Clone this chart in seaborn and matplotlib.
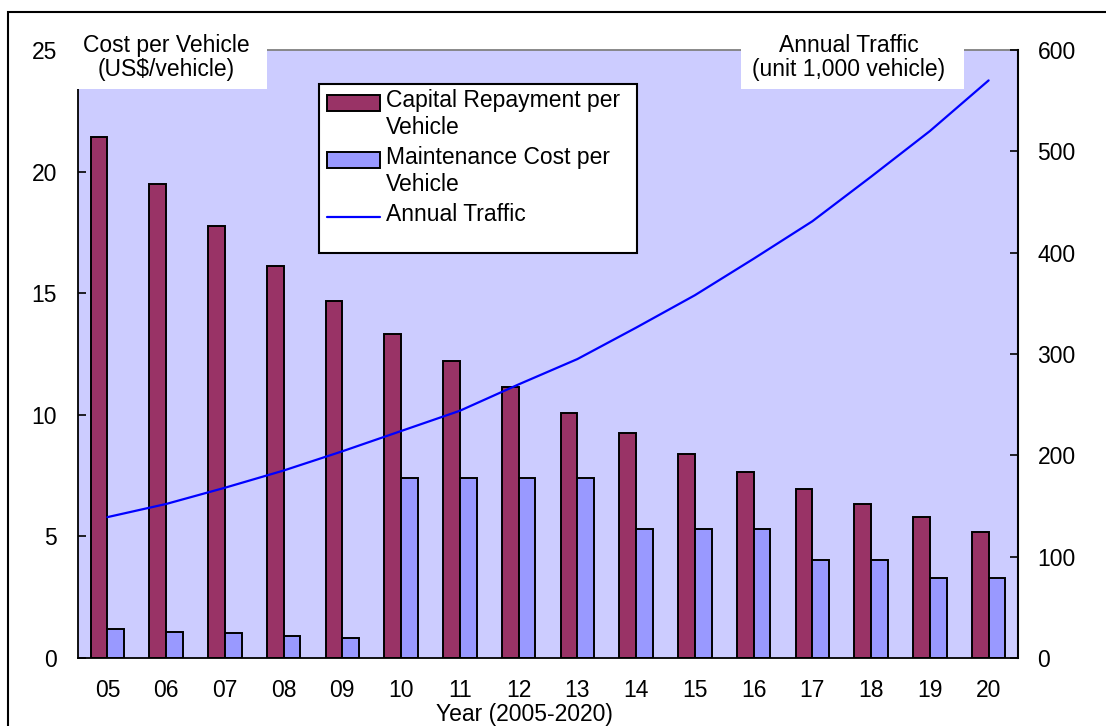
import numpy as np
import pandas as pd
import matplotlib
matplotlib.use("Agg")
import matplotlib.pyplot as plt
import matplotlib.patches as mpatches
from matplotlib.lines import Line2D
from matplotlib.ticker import FixedLocator
import seaborn as sns

# ---------------- data ----------------
years = ["05", "06", "07", "08", "09", "10", "11", "12",
         "13", "14", "15", "16", "17", "18", "19", "20"]
capital = [21.42, 19.49, 17.78, 16.12, 14.68, 13.32, 12.21, 11.16,
           10.09, 9.27, 8.40, 7.64, 6.96, 6.35, 5.81, 5.19]
maintenance = [1.21, 1.08, 1.03, 0.92, 0.81, 7.39, 7.39, 7.39,
               7.39, 5.32, 5.32, 5.32, 4.04, 4.04, 3.28, 3.28]
traffic = [139, 152, 168, 185, 204, 224, 244, 270,
           295, 326, 358, 394, 431, 475, 520, 570]
series_names = ["Capital Repayment per\nVehicle", "Maintenance Cost per\nVehicle"]
line_name = "Annual Traffic"
left_yticks = [0, 5, 10, 15, 20, 25]
right_yticks = [0, 100, 200, 300, 400, 500, 600]

# ---------------- style ----------------
RED = "#993366"
BLUE = "#9999FF"
BG = "#CCCCFF"
LINE = "#0000FF"
FS = 16.5

sns.set_style("white")
plt.rcParams["font.family"] = ["Liberation Sans", "DejaVu Sans"]
plt.rcParams["font.size"] = FS
plt.rcParams["text.color"] = "black"
plt.rcParams["axes.labelcolor"] = "black"
plt.rcParams["xtick.color"] = "black"
plt.rcParams["ytick.color"] = "black"

W, H = 1106, 726
fig = plt.figure(figsize=(W / 100, H / 100), dpi=100)
fig.patch.set_facecolor("white")


def fx(px):
    return px / W


def fy(py):
    return 1 - py / H


ax = fig.add_axes([fx(78), fy(658), fx(1018) - fx(78), fy(50) - fy(658)])
ax.set_facecolor(BG)

df = pd.DataFrame({
    "year": years * 2,
    "series": [series_names[0]] * len(years) + [series_names[1]] * len(years),
    "value": capital + maintenance,
})

sns.barplot(data=df, x="year", y="value", hue="series", order=years,
            hue_order=series_names, palette=[RED, BLUE], saturation=1,
            width=0.57, gap=0, edgecolor="black", linewidth=1.4,
            errorbar=None, legend=False, ax=ax)

ax.set_xlim(-0.5, len(years) - 0.5)
ax.set_ylim(0, 25)
ax.set_yticks(left_yticks)
ax.set_ylabel("")
ax.set_xlabel("Year (2005-2020)", fontsize=FS, color="black")
ax.xaxis.set_label_coords((524 - 78) / 940, (658 - 703) / 608)

ax.xaxis.set_minor_locator(FixedLocator(np.arange(0.5, len(years) - 1, 1.0)))
ax.tick_params(axis="x", which="major", length=0, pad=15, labelsize=FS, colors="black")
ax.tick_params(axis="x", which="minor", direction="in", length=6, width=1.2, color="black")
ax.tick_params(axis="y", which="major", direction="in", length=6, width=1.2,
               pad=15, labelsize=FS, colors="black")

for s in ["left", "bottom"]:
    ax.spines[s].set_color("black")
    ax.spines[s].set_linewidth(1.3)
ax.spines["right"].set_visible(False)
ax.spines["top"].set_color("#808080")
ax.spines["top"].set_linewidth(1.3)

# ---------------- secondary axis: traffic ----------------
ax2 = ax.twinx()
ax2.patch.set_visible(False)
sns.lineplot(x=np.arange(len(years)), y=traffic, color=LINE, linewidth=1.6, ax=ax2)
ax2.set_xlim(-0.5, len(years) - 0.5)
ax2.set_ylim(0, 600)
ax2.set_yticks(right_yticks)
ax2.set_ylabel("")
ax2.tick_params(axis="y", which="major", direction="in", length=6, width=1.2,
                pad=14, labelsize=FS, colors="black")
for s in ["left", "top", "bottom"]:
    ax2.spines[s].set_visible(False)
ax2.spines["right"].set_color("black")
ax2.spines["right"].set_linewidth(1.5)
ax2.grid(False)
ax.grid(False)

# white label boxes over the top corners of the plot area
for (x0, x1) in [(76, 267), (741, 964)]:
    r = mpatches.Rectangle((fx(x0), fy(89)), fx(x1) - fx(x0), fy(40) - fy(89),
                           transform=fig.transFigure, facecolor="white",
                           edgecolor="none", zorder=1, clip_on=False)
    ax2.add_artist(r)

fig.text(fx(166), fy(34), "Cost per Vehicle\n(US$/vehicle)", ha="center", va="top",
         multialignment="center", fontsize=FS, linespacing=1.05, color="black")
fig.text(fx(849), fy(34), "Annual Traffic\n(unit 1,000 vehicle)", ha="center", va="top",
         multialignment="center", fontsize=FS, linespacing=1.05, color="black")

# ---------------- legend ----------------
frame = mpatches.Rectangle((fx(319), fy(253)), fx(637) - fx(319), fy(84) - fy(253),
                           transform=fig.transFigure, facecolor="white",
                           edgecolor="black", linewidth=1.5, zorder=4, clip_on=False)
ax2.add_artist(frame)

handles = [mpatches.Patch(facecolor=RED, edgecolor="black", linewidth=1.4),
           mpatches.Patch(facecolor=BLUE, edgecolor="black", linewidth=1.4),
           Line2D([], [], color=LINE, linewidth=1.6)]
labels = series_names + [line_name]
leg = ax2.legend(handles, labels, loc="upper left",
                 bbox_to_anchor=(fx(327), fy(89)), bbox_transform=fig.transFigure,
                 frameon=False, borderpad=0, borderaxespad=0,
                 handlelength=2.3, handleheight=0.7, handletextpad=0.26,
                 labelspacing=0.33, fontsize=FS)
for t in leg.get_texts():
    t.set_color("black")
leg.set_zorder(5)
for col in leg._legend_handle_box.get_children():
    for item in col.get_children():
        item.align = "top"
        da = item.get_children()[0]
        da.height += 4

# outer border of the chart
border = mpatches.Rectangle((fx(8), -0.2), 1.5, fy(12) + 0.2, transform=fig.transFigure,
                            fill=False, edgecolor="black", linewidth=1.5, clip_on=False)
fig.add_artist(border)

fig.savefig("out.png", dpi=100)
